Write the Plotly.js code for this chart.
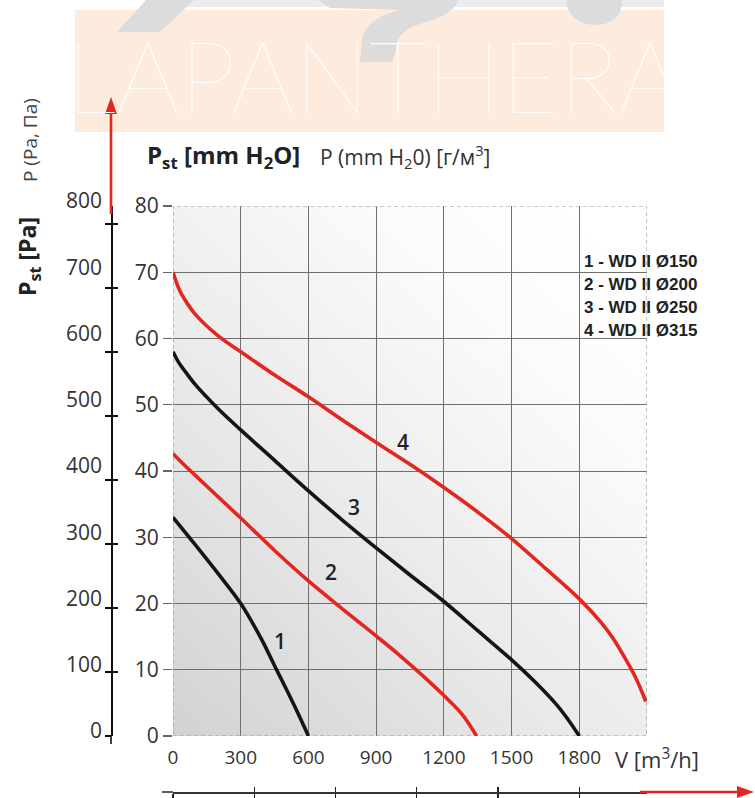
<!DOCTYPE html>
<html><head><meta charset="utf-8">
<script src="https://cdn.plot.ly/plotly-3.0.1.min.js"></script>
<style>html,body{margin:0;padding:0;background:#fff}#chart{width:755px;height:798px}</style>
</head><body><div id="chart"></div>
<script>
// ---------------- data ----------------
const SERIES_NAMES = ['1 - WD II Ø150', '2 - WD II Ø200', '3 - WD II Ø250', '4 - WD II Ø315'];
const CURVE_IDS = ['1', '2', '3', '4'];

const Q1 = [0, 100, 200, 300, 350, 400, 450, 500, 550, 600];
const P1 = [33, 28.8, 24.5, 20.0, 17.2, 14.1, 10.6, 7.2, 3.7, 0];

const Q2 = [0, 50, 100, 200, 300, 450, 600, 750, 900, 1000, 1100, 1200, 1280, 1345];
const P2 = [42.6, 40.9, 39.3, 36.1, 32.9, 28.0, 23.4, 19.2, 15.1, 12.3, 9.3, 6.1, 3.3, 0];

const Q3 = [0, 25, 50, 100, 200, 300, 450, 600, 750, 900, 1050, 1200, 1350, 1500, 1600, 1700, 1750, 1800];
const P3 = [58, 56.4, 55.2, 53, 49.4, 46.2, 41.6, 37.0, 32.6, 28.4, 24.3, 20.3, 15.9, 11.5, 8.3, 4.7, 2.5, 0];

const Q4 = [0, 25, 50, 100, 200, 300, 450, 600, 750, 900, 1050, 1200, 1350, 1500, 1650, 1800, 1900, 1950, 2000, 2050, 2095];
const P4 = [70, 67.6, 66, 63.6, 60.4, 58, 54.5, 51.2, 47.7, 44.3, 41, 37.5, 33.8, 29.8, 25.3, 20.7, 17, 14.7, 11.9, 8.8, 5.2];

const X_TICKS = [0, 300, 600, 900, 1200, 1500, 1800];
const X_GRID = [300, 600, 900, 1200, 1500, 1800];
const Y_TICKS = [0, 10, 20, 30, 40, 50, 60, 70, 80];
const Y_GRID = [10, 20, 30, 40, 50, 60, 70];
const PA_TICKS = [0, 100, 200, 300, 400, 500, 600, 700, 800];
const LS_TICKS = [0, 100, 200, 300, 400, 500];
const X_RANGE = [0, 2100];
const Y_RANGE = [0, 80];
const PA_RANGE = [0, 828];        // tick marks of the Pa scale
const PA_LABEL_RANGE = [0, 800];  // the Pa numbers are printed beside the mm grid
const M3H_PER_LS = 3.6;

// ---------------- styles / layout ----------------
const W = 755, H = 798;
const px = v => v / W;
const py = v => 1 - v / H;
const RED = '#e3261f', BLACK = '#151515';
const COLORS = [BLACK, RED, BLACK, RED];
const LABEL_POS = [[473, 14.3], [700, 24.7], [803, 34.6], [1020, 44.4]];
const LEGEND_X = 1811, LEGEND_TOP = 71.6, LEGEND_STEP = 3.45;
const FONT = 'Open Sans';

const series = [[Q1, P1], [Q2, P2], [Q3, P3], [Q4, P4]];
const traces = series.map((s, i) => ({
  type: 'scatter', mode: 'lines', x: s[0], y: s[1], name: SERIES_NAMES[i],
  line: {color: COLORS[i], width: 3.6, shape: 'spline', smoothing: 1},
  hoverinfo: 'skip', xaxis: 'x', yaxis: 'y'
}));
// empty helper traces so that the secondary scales (Pa, l/s) get drawn
[['x', 'y2'], ['x', 'y3'], ['x', 'y4'], ['x2', 'y'], ['x3', 'y']].forEach(a => traces.push({
  type: 'scatter', mode: 'lines', x: [null], y: [null], xaxis: a[0], yaxis: a[1], hoverinfo: 'skip', showlegend: false
}));

// background gradient
const cv = document.createElement('canvas');
cv.width = 474; cv.height = 530;
const ctx = cv.getContext('2d');
const g = ctx.createLinearGradient(0, cv.height, cv.width * 0.95, cv.height * 0.1);
g.addColorStop(0, '#d2d2d2');
g.addColorStop(0.45, '#ebebeb');
g.addColorStop(0.8, '#fbfbfb');
g.addColorStop(1, '#ffffff');
ctx.fillStyle = g; ctx.fillRect(0, 0, cv.width, cv.height);

const annotations = [];
annotations.push({text: 'LAPANTHERA', xref: 'paper', yref: 'paper', x: px(374), y: py(74),
  xanchor: 'center', yanchor: 'middle', showarrow: false,
  font: {family: 'Lato', size: 100, weight: 100, color: 'rgba(255,255,255,0.95)'}});
annotations.push({text: 'P<sub>st</sub> [mm H<sub>2</sub>O]', xref: 'paper', yref: 'paper', x: px(145), y: py(156),
  xanchor: 'left', yanchor: 'middle', showarrow: false, font: {family: FONT, size: 24, weight: 700, color: '#222'}});
annotations.push({text: 'P (mm H<sub>2</sub>0) [г/м<sup>3</sup>]', xref: 'paper', yref: 'paper', x: px(318), y: py(157),
  xanchor: 'left', yanchor: 'middle', showarrow: false, font: {family: FONT, size: 21, color: '#333'}});
annotations.push({text: 'P (Pa, Па)', textangle: -90, xref: 'paper', yref: 'paper', x: px(30), y: py(140),
  xanchor: 'center', yanchor: 'middle', showarrow: false, font: {family: FONT, size: 19, color: '#444'}});
annotations.push({text: 'P<sub>st</sub> [Pa]', textangle: -90, xref: 'paper', yref: 'paper', x: px(29), y: py(257),
  xanchor: 'center', yanchor: 'middle', showarrow: false, font: {family: FONT, size: 23, weight: 700, color: '#222'}});
annotations.push({text: 'V [m<sup>3</sup>/h]', xref: 'paper', yref: 'paper', x: px(613), y: py(758),
  xanchor: 'left', yanchor: 'middle', showarrow: false, font: {family: FONT, size: 22, color: '#333'}});
SERIES_NAMES.forEach((n, i) => annotations.push({text: n, xref: 'x', yref: 'y', x: LEGEND_X, y: LEGEND_TOP - i * LEGEND_STEP,
  xanchor: 'left', yanchor: 'middle', showarrow: false, font: {family: 'Liberation Sans', size: 17, weight: 700, color: '#222'}}));
CURVE_IDS.forEach((c, i) => annotations.push({text: c, xref: 'x', yref: 'y', x: LABEL_POS[i][0], y: LABEL_POS[i][1],
  xanchor: 'center', yanchor: 'middle', showarrow: false, font: {family: FONT, size: 21, weight: 600, color: '#222'}}));

const P = (x, y) => `${px(x)},${py(y)}`;
const shapes = [
  {type: 'rect', xref: 'paper', yref: 'paper', x0: px(75), x1: px(664), y0: py(132), y1: py(10),
   fillcolor: '#fdecdd', line: {width: 0}, layer: 'above'},
  {type: 'rect', xref: 'paper', yref: 'paper', x0: px(145), x1: px(664), y0: py(7), y1: py(0),
   fillcolor: '#ececec', line: {width: 0}, layer: 'above'},
  {type: 'path', xref: 'paper', yref: 'paper', layer: 'above', fillcolor: '#dcdcdc', line: {width: 0},
   path: `M${P(146, 0)} L${P(194, 0)} L${P(160, 32)} L${P(117, 32)} Z`},
  {type: 'path', xref: 'paper', yref: 'paper', layer: 'above', fillcolor: '#dcdcdc', line: {width: 0},
   path: `M${P(318, 0)} L${P(458, 0)} Q${P(455, 14)} ${P(420, 24)} Q${P(395, 32)} ${P(396, 50)} L${P(392, 62)} L${P(360, 62)} L${P(362, 40)} Q${P(366, 18)} ${P(400, 10)} L${P(330, 8)} Z`},
  {type: 'path', xref: 'paper', yref: 'paper', layer: 'above', fillcolor: '#dcdcdc', line: {width: 0},
   path: `M${P(566, 0)} L${P(622, 0)} Q${P(622, 24)} ${P(596, 25)} Q${P(568, 24)} ${P(566, 0)} Z`},
  {type: 'rect', xref: 'x', yref: 'y', x0: X_RANGE[0], x1: X_RANGE[1], y0: Y_RANGE[0], y1: Y_RANGE[1],
   line: {color: '#9a9a9a', width: 1.2, dash: '4px,3px'}, layer: 'between'},
  {type: 'line', xref: 'paper', yref: 'paper', x0: px(162), x1: px(173), y0: py(792), y1: py(792),
   line: {color: '#333', width: 1.6}},
  {type: 'line', xref: 'paper', yref: 'paper', x0: px(111), x1: px(111), y0: py(736), y1: py(744),
   line: {color: '#111', width: 1.6}},
  {type: 'line', xref: 'paper', yref: 'paper', x0: px(111), x1: px(111), y0: py(214), y1: py(110),
   line: {color: RED, width: 2.6}},
  {type: 'path', xref: 'paper', yref: 'paper', fillcolor: RED, line: {width: 0},
   path: `M${P(111, 97)} L${P(117, 114)} L${P(105, 114)} Z`},
  {type: 'line', xref: 'paper', yref: 'paper', x0: px(640), x1: px(740), y0: py(792), y1: py(792),
   line: {color: RED, width: 2.6}},
  {type: 'path', xref: 'paper', yref: 'paper', fillcolor: RED, line: {width: 0},
   path: `M${P(754, 792)} L${P(737, 786)} L${P(737, 798)} Z`}
];

const gridStyle = {color: '#6f6f6f', width: 1};
const paTickAxis = (ticks) => ({overlaying: 'y', anchor: 'free', position: px(111), side: 'left', range: PA_RANGE,
  tickmode: 'array', tickvals: PA_TICKS, showticklabels: false, showgrid: false, zeroline: false,
  showline: ticks === 'outside', linecolor: '#111', linewidth: 1.6,
  ticks: ticks, ticklen: 6, tickcolor: '#111', tickwidth: 1.4});
const lsTickAxis = (ticks) => ({overlaying: 'x', anchor: 'free', position: (H - 792) / H, side: 'bottom',
  range: X_RANGE.map(v => v / M3H_PER_LS), tickmode: 'array', tickvals: LS_TICKS, showticklabels: false,
  showgrid: false, zeroline: false, showline: ticks === 'outside', linecolor: '#333', linewidth: 1.6,
  ticks: ticks, ticklen: 5, tickcolor: '#222', tickwidth: 1.4});

const layout = {
  width: W, height: H, margin: {l: 0, r: 0, t: 0, b: 0},
  paper_bgcolor: '#ffffff', plot_bgcolor: 'rgba(0,0,0,0)', showlegend: false,
  font: {family: FONT, color: '#333'},
  xaxis: {domain: [px(173), px(647)], range: X_RANGE, anchor: 'y', tickmode: 'array', tickvals: X_TICKS,
    ticktext: X_TICKS.map(String), showgrid: false, zeroline: false, showline: false, ticks: '',
    ticklabelstandoff: 8, tickfont: {family: FONT, size: 19, color: '#333'},
    minor: {tickmode: 'array', tickvals: X_GRID, showgrid: true, gridcolor: gridStyle.color, gridwidth: gridStyle.width, ticks: ''}},
  yaxis: {domain: [py(736), py(206)], range: Y_RANGE, anchor: 'x', tickmode: 'array', tickvals: Y_TICKS,
    ticktext: Y_TICKS.map(String), showgrid: false, zeroline: false, showline: false,
    ticks: 'outside', ticklen: 9, tickcolor: '#666', tickwidth: 1.2,
    tickfont: {family: FONT, size: 21, color: '#333'},
    minor: {tickmode: 'array', tickvals: Y_GRID, showgrid: true, gridcolor: gridStyle.color, gridwidth: gridStyle.width, ticks: ''}},
  yaxis2: paTickAxis('outside'),
  yaxis3: paTickAxis('inside'),
  yaxis4: {overlaying: 'y', anchor: 'free', position: px(111), side: 'left', range: PA_LABEL_RANGE,
    tickmode: 'array', tickvals: PA_TICKS, ticktext: PA_TICKS.map(String), showgrid: false, zeroline: false,
    showline: false, ticks: '', ticklabelshift: -5, ticklabelstandoff: 9,
    tickfont: {family: FONT, size: 21, color: '#333'}},
  xaxis2: lsTickAxis('outside'),
  xaxis3: lsTickAxis('inside'),
  images: [{source: cv.toDataURL(), xref: 'x', yref: 'y', x: X_RANGE[0], y: Y_RANGE[1],
    sizex: X_RANGE[1] - X_RANGE[0], sizey: Y_RANGE[1] - Y_RANGE[0], sizing: 'stretch', layer: 'below'}],
  shapes: shapes,
  annotations: annotations
};

Plotly.newPlot('chart', traces, layout, {staticPlot: true, displayModeBar: false});
</script></body></html>
